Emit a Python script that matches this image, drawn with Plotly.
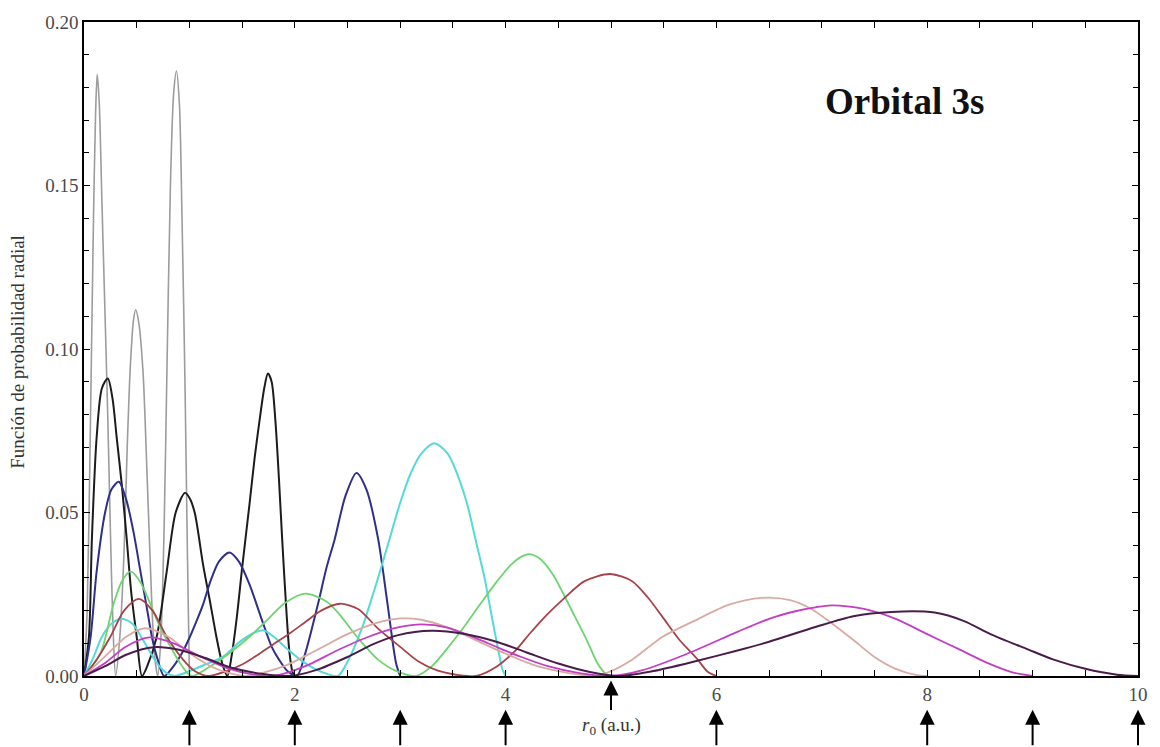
import plotly.graph_objects as go

# Confinement radii (a.u.) marked by arrows
r0_values = [1, 2, 3, 4, 5, 6, 8, 9, 10]
x_tick_values = [0, 2, 4, 6, 8, 10]
y_tick_values = [0.00, 0.05, 0.10, 0.15, 0.20]

# r0 = 1 (gray)
r_1 = [0, 0.03, 0.06, 0.09, 0.11, 0.125, 0.145, 0.17, 0.2, 0.225, 0.25, 0.275, 0.30,
       0.34, 0.38, 0.41, 0.44, 0.47, 0.49, 0.52, 0.56, 0.60, 0.64, 0.67, 0.70,
       0.73, 0.76, 0.785, 0.82, 0.85, 0.877, 0.905, 0.93, 0.958, 0.98, 1.0]
p_1 = [0, 0.02, 0.075, 0.14, 0.172, 0.184, 0.175, 0.145, 0.11, 0.08, 0.045, 0.015, 0,
       0.012, 0.038, 0.07, 0.095, 0.109, 0.112, 0.108, 0.093, 0.06, 0.025, 0.006, 0,
       0.012, 0.045, 0.09, 0.15, 0.178, 0.185, 0.175, 0.14, 0.09, 0.04, 0]

# r0 = 2 (black)
r_2 = [0, 0.047, 0.075, 0.12, 0.17, 0.226, 0.27, 0.31, 0.36, 0.405, 0.45, 0.5, 0.55,
       0.6, 0.69, 0.785, 0.87, 0.958, 1.0, 1.05, 1.13, 1.2, 1.256, 1.31, 1.36,
       1.40, 1.45, 1.50, 1.57, 1.62, 1.665, 1.71, 1.745, 1.78, 1.816, 1.85, 1.88, 1.92, 1.95, 1.98, 2.0]
p_2 = [0, 0.012, 0.042, 0.073, 0.088, 0.091, 0.085, 0.073, 0.058, 0.042, 0.025, 0.012, 0,
       0.003, 0.012, 0.032, 0.05, 0.056, 0.0545, 0.05, 0.034, 0.022, 0.012, 0.004, 0,
       0.006, 0.018, 0.033, 0.0525, 0.067, 0.078, 0.088, 0.0925, 0.09, 0.078, 0.06, 0.042, 0.02, 0.007, 0.001, 0]

# r0 = 3 (navy)
r_3 = [0, 0.063, 0.12, 0.2, 0.26, 0.33, 0.4, 0.47, 0.53, 0.59, 0.65, 0.69, 0.76,
       0.85, 0.93, 1.005, 1.07, 1.131, 1.2, 1.28, 1.38, 1.47, 1.57, 1.7, 1.78, 1.85, 1.93, 2.02,
       2.1, 2.22, 2.3, 2.38, 2.48, 2.585, 2.68, 2.79, 2.88, 2.96, 3.0]
p_3 = [0, 0.012, 0.032, 0.05, 0.057, 0.0594, 0.054, 0.044, 0.033, 0.022, 0.011, 0.006, 0,
       0.003, 0.007, 0.012, 0.017, 0.022, 0.029, 0.035, 0.0378, 0.035, 0.028, 0.016, 0.009, 0.005, 0.0015, 0,
       0.007, 0.022, 0.033, 0.042, 0.055, 0.0621, 0.057, 0.042, 0.022, 0.004, 0]

# r0 = 4 (cyan)
r_4 = [0, 0.08, 0.17, 0.26, 0.36, 0.46, 0.56, 0.69, 0.78, 0.86,
       1.0, 1.15, 1.32, 1.48, 1.6, 1.7, 1.8, 1.92, 2.05, 2.2, 2.32, 2.41,
       2.51, 2.63, 2.79, 2.9, 3.0, 3.1, 3.2, 3.324, 3.45, 3.55, 3.64, 3.72, 3.8, 3.87, 3.93, 3.97, 4.0]
p_4 = [0, 0.005, 0.012, 0.016, 0.0175, 0.016, 0.011, 0.004, 0.001, 0,
       0.0015, 0.0035, 0.0059, 0.0105, 0.013, 0.014, 0.012, 0.0085, 0.005, 0.002, 0.0005, 0,
       0.005, 0.014, 0.03, 0.042, 0.053, 0.062, 0.068, 0.0712, 0.068, 0.061, 0.052, 0.041, 0.03, 0.018, 0.008, 0.002, 0]

# r0 = 5 (green)
r_5 = [0, 0.157, 0.28, 0.36, 0.44, 0.53, 0.63, 0.72, 0.82, 0.92, 1.02,
       1.2, 1.4, 1.57, 1.75, 1.9, 2.1, 2.3, 2.42, 2.54, 2.67, 2.79, 2.95, 3.15,
       3.3, 3.51, 3.65, 3.76, 3.92, 4.05, 4.15, 4.22, 4.32, 4.45, 4.55, 4.66, 4.77, 4.87, 4.95, 5.0]
p_5 = [0, 0.007, 0.022, 0.029, 0.032, 0.029, 0.022, 0.015, 0.009, 0.0035, 0,
       0.003, 0.0075, 0.012, 0.0175, 0.0222, 0.0252, 0.0228, 0.019, 0.014, 0.009, 0.005, 0.0017, 0,
       0.003, 0.011, 0.017, 0.022, 0.029, 0.034, 0.0365, 0.0373, 0.036, 0.031, 0.025, 0.018, 0.011, 0.004, 0.0007, 0]

# r0 = 6 (red)
r_6 = [0, 0.12, 0.25, 0.38, 0.52, 0.65, 0.785, 0.94, 1.05, 1.18,
       1.35, 1.5, 1.65, 1.8, 1.95, 2.1, 2.25, 2.43, 2.6, 2.79, 3.0, 3.17, 3.35, 3.55, 3.72,
       3.92, 4.1, 4.23, 4.4, 4.55, 4.75, 4.99, 5.2, 5.35, 5.49, 5.65, 5.81, 5.92, 6.0]
p_6 = [0, 0.005, 0.012, 0.02, 0.0236, 0.02, 0.012, 0.005, 0.0015, 0,
       0.0015, 0.0035, 0.0065, 0.0098, 0.013, 0.0165, 0.02, 0.0221, 0.0205, 0.0145, 0.0089, 0.0045, 0.0017, 0.0003, 0,
       0.003, 0.008, 0.013, 0.019, 0.0236, 0.029, 0.0312, 0.029, 0.024, 0.018, 0.011, 0.0055, 0.0012, 0]

# r0 = 8 (salmon)
r_8 = [0, 0.2, 0.4, 0.58, 0.8, 1.0, 1.2, 1.4, 1.55,
       1.9, 2.2, 2.5, 2.8, 3.0, 3.2, 3.45, 3.7, 4.0, 4.3, 4.6, 4.85,
       5.0, 5.2, 5.49, 5.8, 6.12, 6.43, 6.7, 6.9, 7.1, 7.3, 7.5, 7.7, 7.9, 8.0]
p_8 = [0, 0.006, 0.012, 0.0146, 0.012, 0.007, 0.003, 0.0007, 0,
       0.003, 0.0078, 0.0128, 0.0165, 0.0176, 0.0172, 0.0148, 0.0112, 0.0068, 0.003, 0.0009, 0,
       0.0015, 0.005, 0.012, 0.017, 0.0218, 0.0239, 0.0232, 0.0205, 0.016, 0.011, 0.0058, 0.0022, 0.0003, 0]

# r0 = 9 (magenta)
r_9 = [0, 0.2, 0.4, 0.62, 0.85, 1.1, 1.35, 1.6, 1.8,
       2.1, 2.4, 2.7, 3.0, 3.2, 3.45, 3.7, 3.92, 4.15, 4.4, 4.7, 5.0,
       5.3, 5.7, 6.2, 6.5, 6.75, 6.94, 7.09, 7.4, 7.69, 8.0, 8.32, 8.57, 8.8, 9.0]
p_9 = [0, 0.004, 0.009, 0.0118, 0.01, 0.006, 0.0025, 0.0005, 0,
       0.003, 0.0078, 0.012, 0.015, 0.0158, 0.0148, 0.0118, 0.0088, 0.0058, 0.003, 0.0009, 0,
       0.0018, 0.0065, 0.0135, 0.0175, 0.0198, 0.021, 0.0216, 0.0205, 0.0176, 0.0128, 0.0079, 0.004, 0.0012, 0]

# r0 = 10 (dark purple)
r_10 = [0, 0.2, 0.4, 0.66, 0.9, 1.15, 1.4, 1.7, 1.95,
        2.2, 2.5, 2.75, 2.98, 3.3, 3.6, 3.92, 4.2, 4.5, 4.8, 5.08,
        5.4, 5.8, 6.2, 6.5, 6.94, 7.3, 7.66, 8.07, 8.35, 8.6, 8.95, 9.2, 9.5, 9.8, 10.0]
p_10 = [0, 0.003, 0.0065, 0.0088, 0.008, 0.0055, 0.0025, 0.0006, 0,
        0.0018, 0.0058, 0.0098, 0.0125, 0.0138, 0.0129, 0.0104, 0.0072, 0.0038, 0.0012, 0,
        0.0015, 0.0045, 0.0078, 0.0105, 0.015, 0.0183, 0.0196, 0.0194, 0.0168, 0.0128, 0.0082, 0.005, 0.0022, 0.0004, 0]

series = [
    ("r0 = 1", r_1, p_1, "#9c9c9c", 1.6),
    ("r0 = 2", r_2, p_2, "#1c1c1c", 2.0),
    ("r0 = 3", r_3, p_3, "#2f2f8c", 2.0),
    ("r0 = 4", r_4, p_4, "#55d9d9", 2.0),
    ("r0 = 5", r_5, p_5, "#6fd36f", 1.8),
    ("r0 = 6", r_6, p_6, "#a8424a", 1.8),
    ("r0 = 8", r_8, p_8, "#d9aaa2", 1.8),
    ("r0 = 9", r_9, p_9, "#c23ec2", 1.8),
    ("r0 = 10", r_10, p_10, "#4a1c4c", 2.0),
]

fig = go.Figure()
for name, r, p, col, w in series:
    fig.add_trace(go.Scatter(x=r, y=p, mode="lines", name=name,
                             line=dict(color=col, width=w, shape="spline", smoothing=0.8)))

serif = "Liberation Serif"
tickfont = dict(family=serif, size=19, color="#4a4a4a")

fig.update_xaxes(range=[0, 10], tickvals=x_tick_values, ticks="inside", ticklen=6, tickwidth=1.2,
                 tickcolor="black", showline=True, linecolor="black", linewidth=1.6,
                 mirror="ticks", showgrid=False, zeroline=False, tickfont=tickfont,
                 minor=dict(dtick=0.5, tick0=0, ticks="inside", ticklen=6, tickwidth=1.2,
                            tickcolor="black", showgrid=False))
fig.update_yaxes(range=[0, 0.2], tickvals=y_tick_values, tickformat=".2f", ticks="inside",
                 ticklen=6, tickwidth=1.2, tickcolor="black", showline=True, linecolor="black",
                 linewidth=1.6, mirror="ticks", showgrid=False, zeroline=False, tickfont=tickfont,
                 minor=dict(dtick=0.01, tick0=0, ticks="inside", ticklen=5, tickwidth=1.2,
                            tickcolor="black", showgrid=False))

annotations = []
for r0 in r0_values:
    if r0 == 5:
        tip, length = -0.007, 31
    else:
        tip, length = -0.0515, 37
    annotations.append(dict(x=r0, y=tip, xref="x", yref="paper", text="", showarrow=True,
                            ax=0, ay=length, arrowhead=2, arrowsize=1.5, arrowwidth=2,
                            arrowcolor="black"))
annotations.append(dict(x=5, y=-0.077, xref="x", yref="paper",
                        text="<i>r</i><sub>0</sub> (a.u.)", showarrow=False,
                        font=dict(family=serif, size=19, color="#333333"),
                        xanchor="center", yanchor="middle"))
annotations.append(dict(x=-0.063, y=0.495, xref="paper", yref="paper",
                        text="Función de probabilidad radial", showarrow=False, textangle=-90,
                        font=dict(family=serif, size=19, color="#333333"),
                        xanchor="center", yanchor="middle"))
annotations.append(dict(x=7.78, y=0.1757, xref="x", yref="y", text="<b>Orbital 3s</b>",
                        showarrow=False, font=dict(family=serif, size=37, color="#111111"),
                        xanchor="center", yanchor="middle"))

fig.update_layout(width=1160, height=747, margin=dict(l=84, r=15, t=18, b=71),
                  paper_bgcolor="white", plot_bgcolor="white", showlegend=False,
                  annotations=annotations)

fig.write_html("out.html")
